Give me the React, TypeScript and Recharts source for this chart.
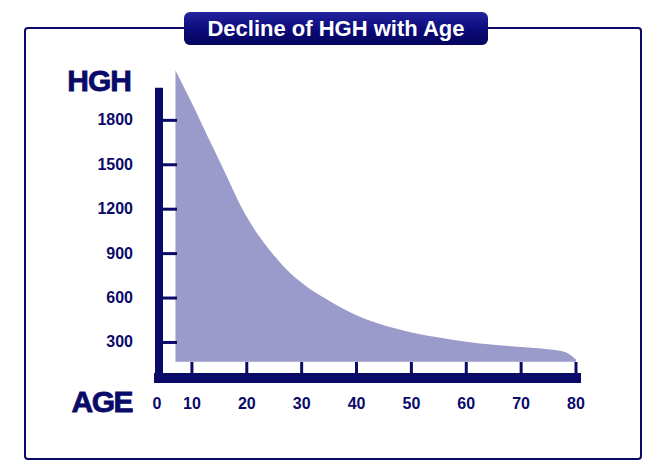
import { Area, ComposedChart, Label, ReferenceLine, XAxis, YAxis } from "recharts";

const NAVY = "#0a0a68";
const FILL = "#9a9acb";
const FONT = "'Liberation Sans', Arial, Helvetica, sans-serif";

// ages (years) and HGH level
const ages = [7, 10, 13, 16, 19, 22, 25, 28, 31, 35, 40, 45, 50, 55, 60, 65, 70, 75, 78, 80];
const hgh = [2136, 1915, 1680, 1450, 1215, 1030, 885, 765, 675, 582, 484, 416, 368, 334, 305, 284, 270, 255, 235, 185];
const ageTicks = [10, 20, 30, 40, 50, 60, 70, 80];
const hghTicks = [300, 600, 900, 1200, 1500, 1800];
const floorValue = 170;
const axisTop = 2020;

const data = ages.map((age, i) => ({ age, hgh: hgh[i] }));

function YTick(props: any) {
  const { x, y, payload } = props;
  return (
    <g>
      <line x1={x + 4} x2={x + 18} y1={y} y2={y} stroke={NAVY} strokeWidth={3} />
      <text x={x - 26} y={y + 5} textAnchor="end" fill={NAVY} fontSize={16} fontWeight="bold" fontFamily={FONT}>
        {payload.value}
      </text>
    </g>
  );
}

function XTick(props: any) {
  const { x, y, payload } = props;
  return (
    <g>
      <line x1={x} x2={x} y1={y - 4} y2={y - 16} stroke={NAVY} strokeWidth={3} />
      <text x={x} y={y + 31} textAnchor="middle" fill={NAVY} fontSize={16} fontWeight="bold" fontFamily={FONT}>
        {payload.value}
      </text>
    </g>
  );
}

function AgeLabel(props: any) {
  const { x, y } = props.viewBox;
  return (
    <g fontFamily={FONT} fontWeight="bold" fill={NAVY}>
      <text x={x - 27} y={y + 34} textAnchor="end" fontSize={30} letterSpacing={-1.5} stroke={NAVY} strokeWidth={0.8}>
        AGE
      </text>
      <text x={x - 2} y={y + 31} textAnchor="middle" fontSize={16}>
        0
      </text>
    </g>
  );
}

function HghLabel(props: any) {
  const { x, y } = props.viewBox;
  return (
    <text x={x + 32} y={y + 21} textAnchor="end" fill={NAVY} fontFamily={FONT} fontWeight="bold" fontSize={30} letterSpacing={-1} stroke={NAVY} strokeWidth={0.8}>
      HGH
    </text>
  );
}

export default function App() {
  return (
    <div style={{ position: "absolute", left: 0, top: 0, width: 653, height: 468, background: "#fff", fontFamily: FONT }}>
      <div
        style={{
          position: "absolute",
          left: 24,
          top: 27,
          width: 618,
          height: 433,
          boxSizing: "border-box",
          border: `2px solid ${NAVY}`,
          borderRadius: 4,
        }}
      />
      <div style={{ position: "absolute", left: 0, top: 0 }}>
        <ComposedChart width={653} height={468} data={data} margin={{ top: 70, right: 77, bottom: 60, left: 99 }}>
          <XAxis
            dataKey="age"
            type="number"
            domain={[4, 80]}
            ticks={ageTicks}
            interval={0}
            height={30}
            tickSize={0}
            tickMargin={0}
            tickLine={false}
            axisLine={{ stroke: NAVY, strokeWidth: 10, strokeLinecap: "square" }}
            tick={<XTick />}
          >
            <Label content={<AgeLabel />} />
          </XAxis>
          <YAxis
            type="number"
            domain={[60, 2140]}
            ticks={hghTicks}
            interval={0}
            width={60}
            tickSize={0}
            tickMargin={0}
            tickLine={false}
            axisLine={false}
            tick={<YTick />}
          >
            <Label content={<HghLabel />} />
          </YAxis>
          <Area
            type="monotone"
            dataKey="hgh"
            baseValue={floorValue}
            fill={FILL}
            fillOpacity={1}
            stroke="none"
            isAnimationActive={false}
          />
          <ReferenceLine
            segment={[
              { x: 4, y: axisTop },
              { x: 4, y: 60 },
            ]}
            stroke={NAVY}
            strokeWidth={8}
          />
        </ComposedChart>
      </div>
      <div
        style={{
          position: "absolute",
          left: 184,
          top: 12,
          width: 304,
          height: 33,
          borderRadius: 6,
          background: "linear-gradient(#2424a0, #0a0a78 55%, #05055e)",
          color: "#fff",
          fontWeight: "bold",
          fontSize: 22,
          lineHeight: "33px",
          textAlign: "center",
        }}
      >
        Decline of HGH with Age
      </div>
    </div>
  );
}
